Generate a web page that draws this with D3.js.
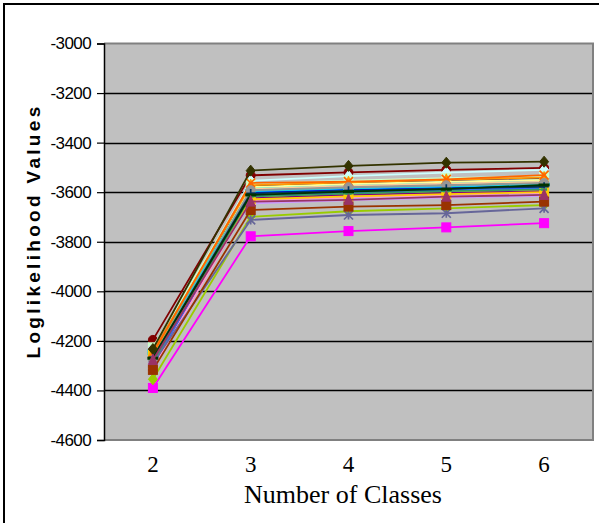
<!DOCTYPE html>
<html>
<head>
<meta charset="utf-8">
<script src="https://cdn.jsdelivr.net/npm/d3@7"></script>
<style>
  html, body { margin: 0; padding: 0; background: #fff; }
  svg { display: block; }
</style>
</head>
<body>
<svg id="chart" width="599" height="523"></svg>
<script>
// Number of latent classes on the x axis
const classes = ["2", "3", "4", "5", "6"];

// Y axis ticks
const yTicks = [-3000, -3200, -3400, -3600, -3800, -4000, -4200, -4400, -4600];

// Loglikelihood for each run, one array per run (classes 2..6)
const run01 = [-4268, -3575, -3562, -3551, -3544];
const run02 = [-4390, -3778, -3757, -3742, -3725];
const run03 = [-4245, -3620, -3608, -3597, -3590];
const run04 = [-4281, -3583, -3571, -3560, -3552];
const run05 = [-4302, -3625, -3611, -3603, -3596];
const run06 = [-4196, -3532, -3520, -3510, -3502];
const run07 = [-4258, -3590, -3580, -3571, -3563];
const run08 = [-4286, -3601, -3590, -3582, -3575];
const run09 = [-4240, -3596, -3585, -3577, -3569];
const run10 = [-4262, -3554, -3535, -3521, -3510];
const run11 = [-4226, -3566, -3553, -3543, -3536];
const run12 = [-4292, -3579, -3567, -3558, -3550];
const run13 = [-4273, -3640, -3627, -3615, -3606];
const run14 = [-4309, -3633, -3622, -3612, -3603];
const run15 = [-4236, -3645, -3632, -3622, -3615];
const run16 = [-4263, -3587, -3575, -3566, -3558];
const run17 = [-4297, -3614, -3602, -3591, -3585];
const run18 = [-4251, -3593, -3583, -3574, -3567];
const run19 = [-4355, -3699, -3677, -3665, -3652];
const run20 = [-4256, -3629, -3617, -3608, -3600];
const run21 = [-4244, -3572, -3560, -3550, -3541];
const run22 = [-4250, -3563, -3557, -3548, -3531];
const run23 = [-4290, -3712, -3692, -3685, -3665];
const run24 = [-4278, -3592, -3580, -3572, -3563];
const run25 = [-4266, -3605, -3594, -3586, -3578];
const run26 = [-4284, -3617, -3606, -3596, -3589];
const run27 = [-4270, -3611, -3598, -3588, -3571];
const run28 = [-4233, -3513, -3494, -3481, -3477];
const run29 = [-4317, -3672, -3658, -3652, -3638];
const run30 = [-4277, -3638, -3631, -3618, -3611];

const runs = [run01, run02, run03, run04, run05, run06, run07, run08, run09, run10,
              run11, run12, run13, run14, run15, run16, run17, run18, run19, run20,
              run21, run22, run23, run24, run25, run26, run27, run28, run29, run30];

// Series palette and marker cycle
const palette = ["#000080", "#FF00FF", "#FFFF00", "#00FFFF", "#800080", "#800000", "#008080",
                 "#0000FF", "#00CCFF", "#CCFFFF", "#CCFFCC", "#FFFF99", "#99CCFF", "#FF99CC",
                 "#CC99FF", "#FFCC99", "#3366FF", "#33CCCC", "#99CC00", "#FFCC00", "#FF9900",
                 "#FF6600", "#666699", "#969696", "#003366", "#339966", "#003300", "#333300",
                 "#993300", "#993366"];
const markerCycle = ["diamond", "square", "triangle", "x", "star", "circle", "plus", "shortbar", "longbar"];

const svg = d3.select("#chart");

// Outer frame
svg.append("rect")
  .attr("x", 4).attr("y", 4)
  .attr("width", 620).attr("height", 540)
  .attr("fill", "none").attr("stroke", "#000").attr("stroke-width", 2);

const plot = { left: 104, top: 43.5, right: 593, bottom: 440 };

const x = d3.scaleBand().domain(classes).range([plot.left, plot.right]);
const y = d3.scaleLinear().domain([-4600, -3000]).range([plot.bottom, plot.top]);

// Plot area
svg.append("rect")
  .attr("x", plot.left).attr("y", plot.top)
  .attr("width", plot.right - plot.left).attr("height", plot.bottom - plot.top)
  .attr("fill", "#C0C0C0");

// Gridlines
svg.append("g")
  .selectAll("line")
  .data(yTicks.filter(v => v !== -3000 && v !== -4600))
  .join("line")
  .attr("x1", plot.left).attr("x2", plot.right)
  .attr("y1", d => Math.round(y(d)) + 0.5).attr("y2", d => Math.round(y(d)) + 0.5)
  .attr("stroke", "#000").attr("stroke-width", 1.3);

// Plot border (top, right, bottom)
svg.append("path")
  .attr("d", `M${plot.left},${plot.top}H${plot.right}V${plot.bottom}H${plot.left}`)
  .attr("fill", "none").attr("stroke", "#808080").attr("stroke-width", 2);

// Y axis
const yAxis = d3.axisLeft(y).tickValues(yTicks).tickSize(7).tickPadding(6)
  .tickFormat(d3.format("d"));
const gy = svg.append("g").attr("transform", `translate(${plot.left},0)`).call(yAxis);
gy.select(".domain").attr("stroke", "#000").attr("stroke-width", 1.5);
gy.selectAll(".tick line").attr("stroke", "#000").attr("stroke-width", 1.2);
gy.selectAll(".tick text")
  .attr("font-family", "'Liberation Sans', Arial, sans-serif")
  .attr("font-size", 17).attr("fill", "#000")
  .attr("letter-spacing", -0.6)
  .text(d => "-" + Math.abs(d));

// X axis labels (no axis line)
const xAxis = d3.axisBottom(x).tickSize(0).tickPadding(0);
const gx = svg.append("g").attr("transform", `translate(0,456)`).call(xAxis);
gx.select(".domain").remove();
gx.selectAll(".tick text")
  .attr("font-family", "'Liberation Serif', 'Times New Roman', serif")
  .attr("font-size", 23).attr("fill", "#000");

// Axis titles
svg.append("text")
  .attr("x", 343).attr("y", 503)
  .attr("text-anchor", "middle")
  .attr("font-family", "'Liberation Serif', 'Times New Roman', serif")
  .attr("font-size", 26).attr("fill", "#000")
  .text("Number of Classes");

svg.append("text")
  .attr("transform", "translate(40,231) rotate(-90)")
  .attr("text-anchor", "middle")
  .attr("font-family", "'Liberation Sans', Arial, sans-serif")
  .attr("font-weight", "bold")
  .attr("font-size", 19).attr("letter-spacing", 3.3).attr("fill", "#000")
  .text("Loglikelihood Values");

// Series lines and markers
const cx = c => x(c) + x.bandwidth() / 2;
const line = d3.line().x((d, i) => cx(classes[i])).y(d => y(d));

function drawMarker(g, type, color, px, py) {
  const s = 4.5;
  switch (type) {
    case "diamond":
      g.append("path").attr("d", `M${px},${py - s - 1}L${px + s},${py}L${px},${py + s + 1}L${px - s},${py}Z`)
        .attr("fill", color).attr("stroke", color).attr("stroke-width", 1);
      break;
    case "square":
      g.append("rect").attr("x", px - s).attr("y", py - s).attr("width", 2 * s).attr("height", 2 * s)
        .attr("fill", color).attr("stroke", color).attr("stroke-width", 1);
      break;
    case "triangle":
      g.append("path").attr("d", `M${px},${py - s - 1.5}L${px + s},${py + s}L${px - s},${py + s}Z`)
        .attr("fill", color).attr("stroke", color).attr("stroke-width", 1);
      break;
    case "x":
      g.append("path").attr("d", `M${px - s},${py - s}L${px + s},${py + s}M${px + s},${py - s}L${px - s},${py + s}`)
        .attr("stroke", color).attr("stroke-width", 1.7).attr("fill", "none");
      break;
    case "star":
      g.append("path").attr("d", `M${px - s},${py - s}L${px + s},${py + s}M${px + s},${py - s}L${px - s},${py + s}M${px},${py - s}V${py + s}`)
        .attr("stroke", color).attr("stroke-width", 1.7).attr("fill", "none");
      break;
    case "circle":
      g.append("circle").attr("cx", px).attr("cy", py).attr("r", s)
        .attr("fill", color).attr("stroke", color).attr("stroke-width", 1);
      break;
    case "plus":
      g.append("path").attr("d", `M${px - s},${py}H${px + s}M${px},${py - s}V${py + s}`)
        .attr("stroke", color).attr("stroke-width", 1.7).attr("fill", "none");
      break;
    case "shortbar":
      g.append("path").attr("d", `M${px - 3},${py}H${px + 3}`)
        .attr("stroke", color).attr("stroke-width", 2.5).attr("fill", "none");
      break;
    case "longbar":
      g.append("path").attr("d", `M${px - s - 1},${py}H${px + s + 1}`)
        .attr("stroke", color).attr("stroke-width", 3).attr("fill", "none");
      break;
  }
}

const series = svg.append("g");
runs.forEach((vals, k) => {
  const color = palette[k % palette.length];
  const g = series.append("g");
  g.append("path").attr("d", line(vals))
    .attr("fill", "none").attr("stroke", color).attr("stroke-width", 1.8);
  const type = markerCycle[k % markerCycle.length];
  vals.forEach((v, i) => drawMarker(g, type, color, cx(classes[i]), y(v)));
});
</script>
</body>
</html>
